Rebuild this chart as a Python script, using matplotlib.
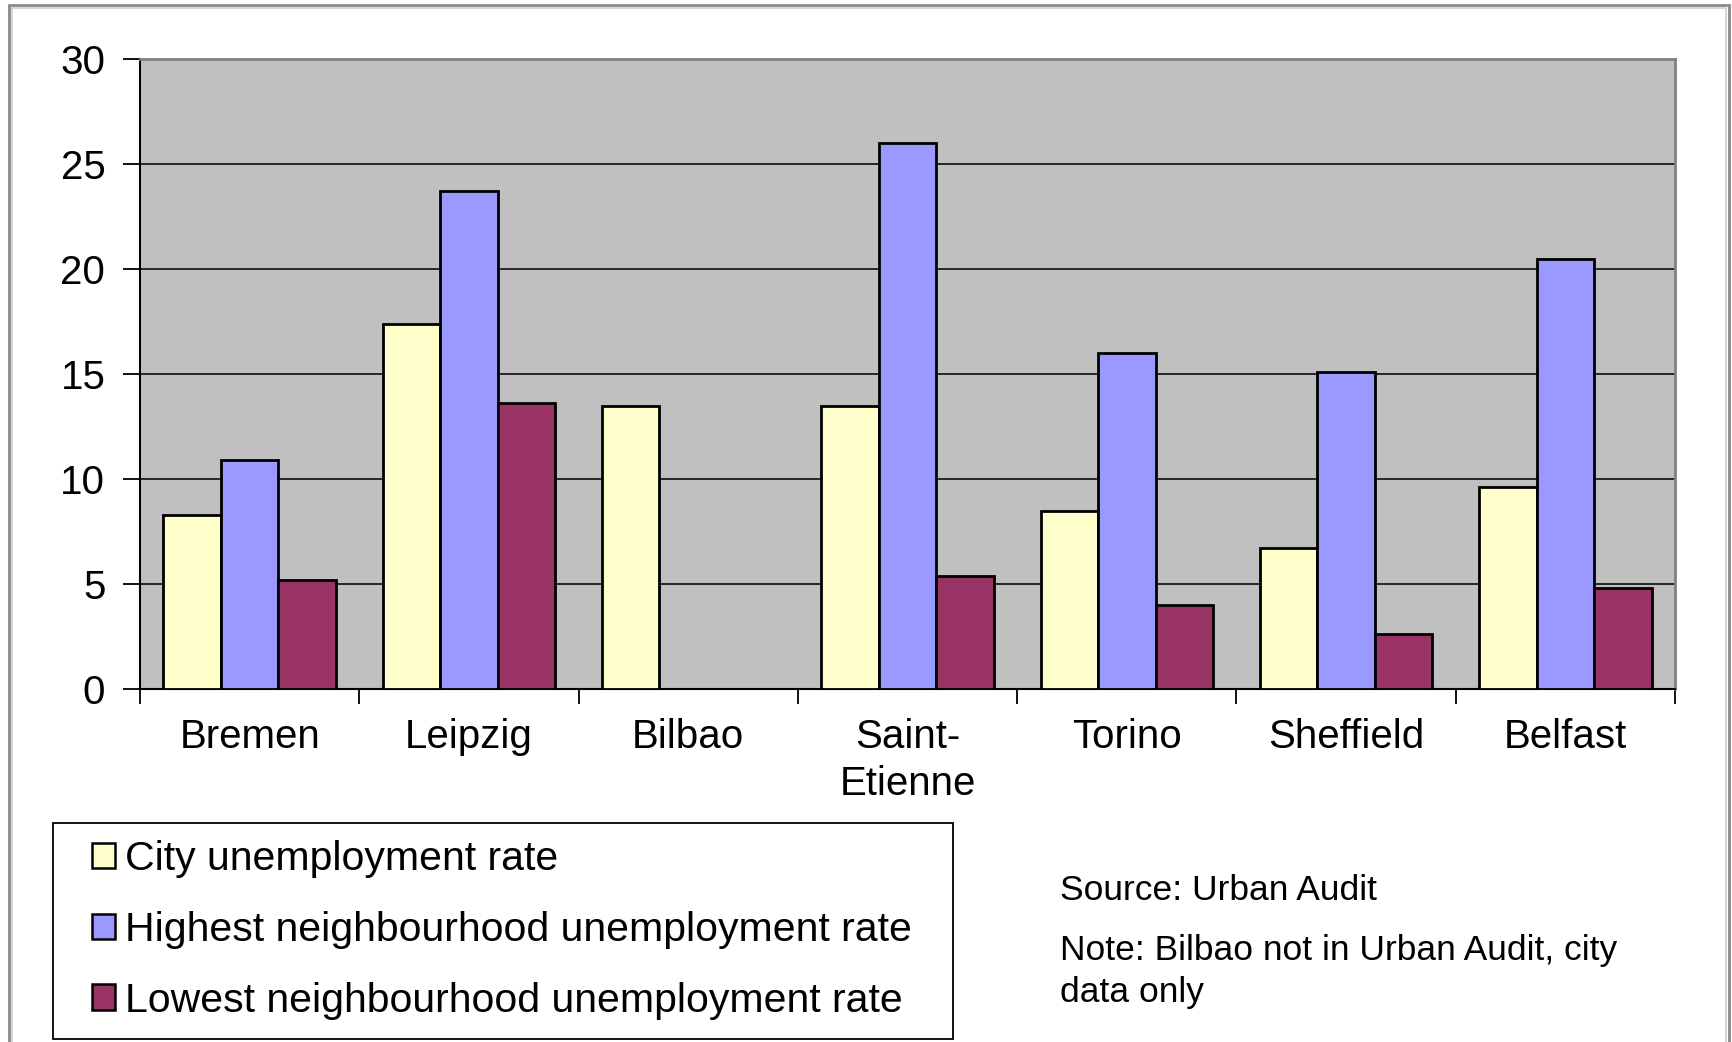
import numpy as np
import matplotlib
matplotlib.use("Agg")
import matplotlib.pyplot as plt
from matplotlib.patches import Rectangle, Patch

plt.rcParams["font.family"] = ["Liberation Sans", "DejaVu Sans"]

# Data
cities = ["Bremen", "Leipzig", "Bilbao", "Saint-\nEtienne", "Torino", "Sheffield", "Belfast"]
city_rate = [8.3, 17.4, 13.5, 13.5, 8.5, 6.7, 9.6]
highest_rate = [10.9, 23.7, np.nan, 26.0, 16.0, 15.1, 20.5]
lowest_rate = [5.2, 13.6, np.nan, 5.4, 4.0, 2.6, 4.8]

series_names = ["City unemployment rate",
                "Highest neighbourhood unemployment rate",
                "Lowest neighbourhood unemployment rate"]
colors = ["#FFFFCC", "#9999FF", "#993366"]

W, H = 1733, 1042
fig = plt.figure(figsize=(W / 100, H / 100), dpi=100)

# outer chart frame
fig.patches.append(Rectangle((9 / W, -0.05), 1720 / W, 1 - 5 / H + 0.05,
                             transform=fig.transFigure, fill=False,
                             edgecolor="#8a8a8a", lw=2.0))
fig.patches.append(Rectangle((12 / W, -0.05), 1714 / W, 1 - 8 / H + 0.05,
                             transform=fig.transFigure, fill=False,
                             edgecolor="#d0d0d0", lw=1.2))

ax = fig.add_axes([140 / W, 1 - 689 / H, (1675 - 140) / W, (689 - 59) / H])
ax.set_facecolor("#C0C0C0")

x = np.arange(len(cities))
bw = 0.262
for i, (vals, c) in enumerate(zip([city_rate, highest_rate, lowest_rate], colors)):
    ax.bar(x + (i - 1) * bw, vals, width=bw, color=c, edgecolor="black",
           linewidth=2.0, zorder=3)

ax.set_xlim(-0.5, len(cities) - 0.5)
ax.set_ylim(0, 30)
ax.set_yticks(range(0, 31, 5))
ax.yaxis.grid(True, color="#1a1a1a", lw=1.3)
ax.set_axisbelow(True)

ax.set_xticks(np.arange(-0.5, len(cities), 1.0))
ax.set_xticklabels([])
ax.set_xticks(x, minor=True)
ax.set_xticklabels(cities, minor=True, fontsize=29, linespacing=1.3)
ax.tick_params(axis="x", which="minor", length=0, pad=21)
ax.tick_params(axis="x", which="major", length=11, width=1.3, direction="out")
ax.tick_params(axis="y", length=12, width=1.3, direction="out", labelsize=29, pad=13)

for s in ["top", "right"]:
    ax.spines[s].set_color("#808080")
    ax.spines[s].set_linewidth(2)
for s in ["left", "bottom"]:
    ax.spines[s].set_color("black")
    ax.spines[s].set_linewidth(1.5)

# legend box
fig.patches.append(Rectangle((53 / W, 1 - 1039 / H), 900 / W, 216 / H,
                             transform=fig.transFigure, facecolor="white",
                             edgecolor="black", lw=1.3, zorder=1))
handles = [Patch(facecolor=c, edgecolor="black", lw=1.8) for c in colors]
fig.legend(handles, series_names, loc="upper left",
           bbox_to_anchor=(92 / W, 1 - 840 / H), frameon=False,
           fontsize=29.5, borderpad=0, borderaxespad=0, labelspacing=0.8,
           handlelength=0.55, handleheight=0.57, handletextpad=0.25)

fig.text(1060 / W, 1 - 900 / H, "Source: Urban Audit", fontsize=25.5, va="baseline")
fig.text(1060 / W, 1 - 960 / H, "Note: Bilbao not in Urban Audit, city", fontsize=25.5, va="baseline")
fig.text(1060 / W, 1 - 1002 / H, "data only", fontsize=25.5, va="baseline")

fig.savefig("out.png", dpi=100)
